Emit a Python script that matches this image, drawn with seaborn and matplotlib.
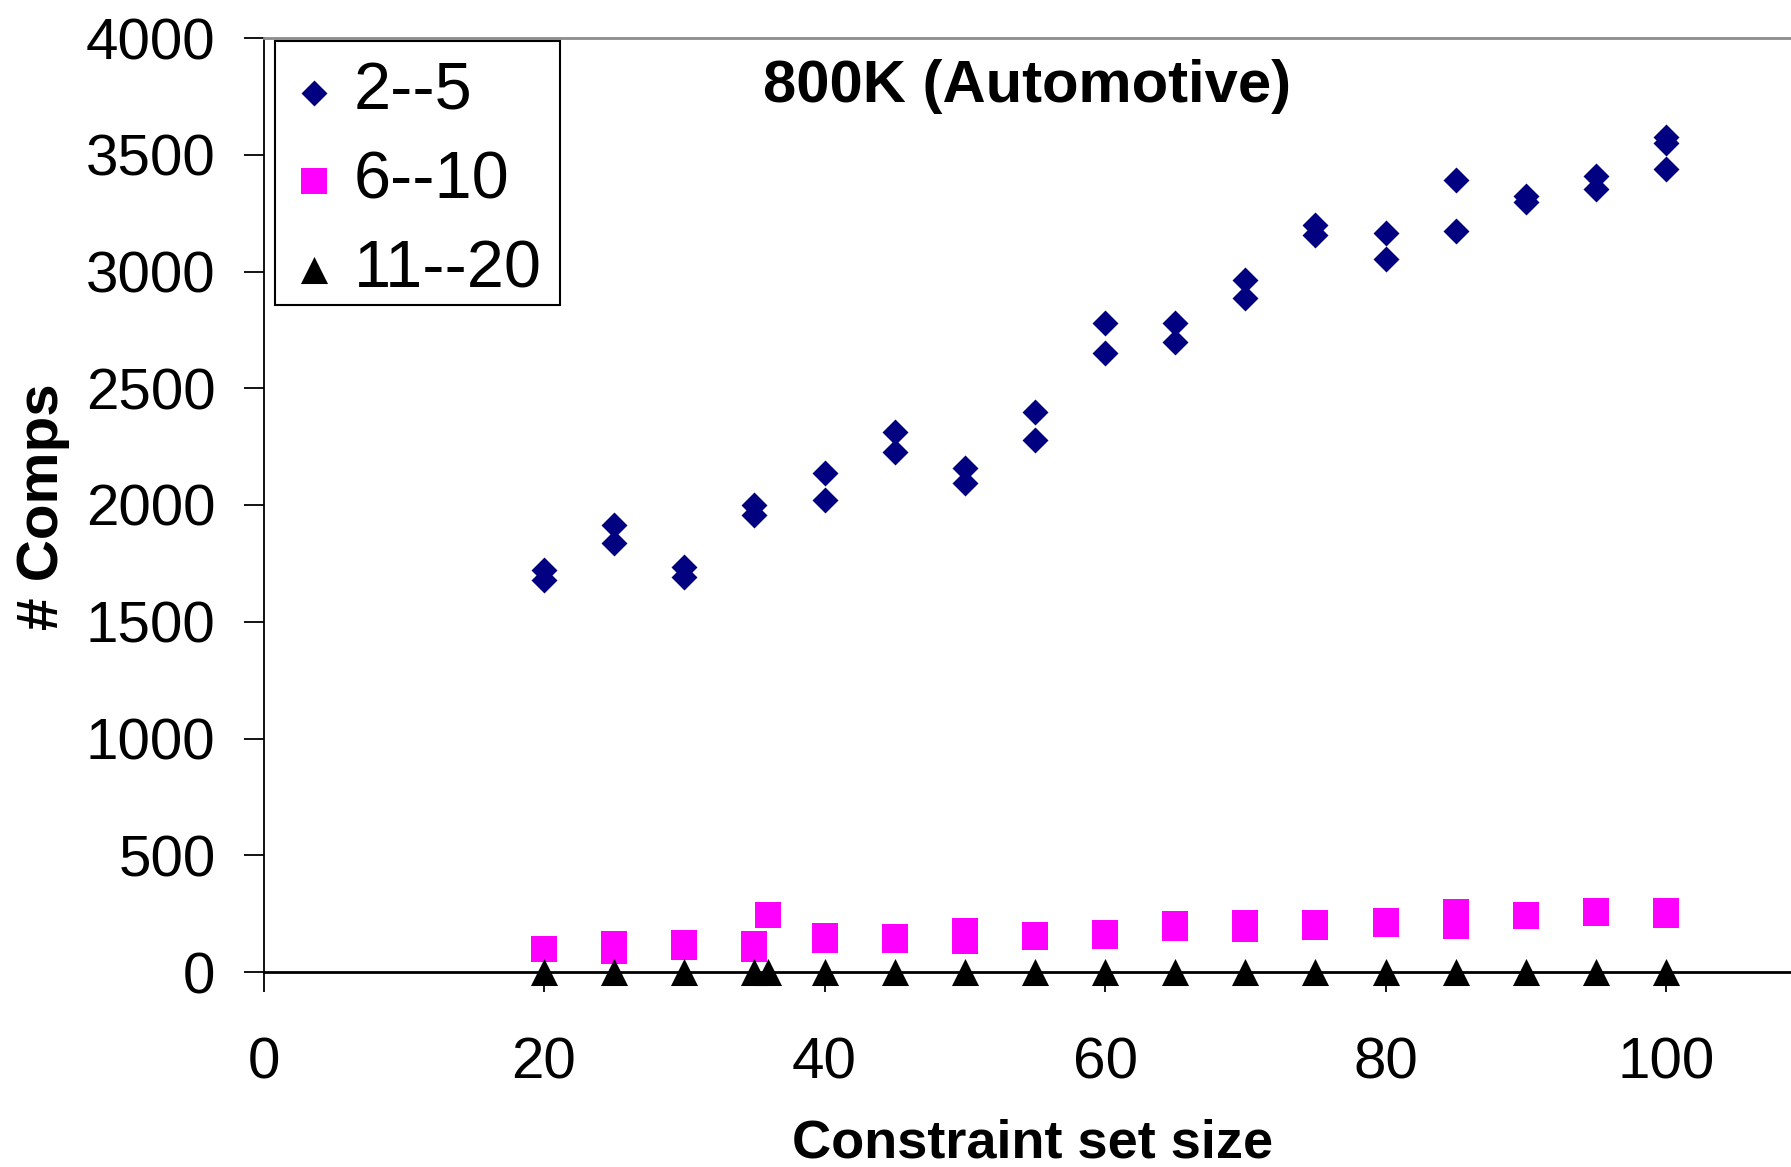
import matplotlib
matplotlib.use("Agg")
import matplotlib.pyplot as plt
import matplotlib.patches as mpatches
import seaborn as sns
import pandas as pd

# ---- data ----
diamond_x = [20, 20, 25, 25, 30, 30, 35, 35, 40, 40, 45, 45, 50, 50, 55, 55, 60, 60,
             65, 65, 70, 70, 75, 75, 80, 80, 85, 85, 90, 90, 95, 95, 100, 100, 100]
diamond_y = [1722, 1679, 1914, 1837, 1735, 1692, 2000, 1957, 2137, 2021, 2313, 2227,
             2158, 2094, 2398, 2278, 2779, 2651, 2779, 2698, 2963, 2886, 3199, 3156,
             3165, 3053, 3392, 3173, 3323, 3298, 3409, 3353, 3576, 3550, 3439]

square_x = [20, 20, 25, 25, 30, 30, 35, 35, 36, 40, 40, 45, 45, 50, 50, 55, 55, 60, 60,
            65, 65, 70, 70, 75, 75, 80, 80, 85, 85, 90, 90, 95, 95, 100, 100]
square_y = [98, 98, 118, 92, 126, 105, 118, 100, 242, 153, 138, 150, 135, 175, 132,
            158, 152, 169, 156, 205, 189, 208, 183, 208, 192, 219, 206, 255, 195,
            246, 238, 260, 252, 260, 245]

triangle_x = [20, 25, 30, 35, 36, 40, 45, 50, 55, 60, 65, 70, 75, 80, 85, 90, 95, 100]
triangle_y = [0, 0, 0, 0, 0, 0, 0, 0, 0, 0, 0, 0, 0, 0, 0, 0, 0, 0]

series_labels = ["2--5", "6--10", "11--20"]
x_ticks = [0, 20, 40, 60, 80, 100]
y_ticks = [0, 500, 1000, 1500, 2000, 2500, 3000, 3500, 4000]
title = "800K (Automotive)"
x_label = "Constraint set size"
y_label = "# Comps"

# ---- style ----
sns.set_style("white")
plt.rcParams["font.family"] = ["Liberation Sans", "DejaVu Sans"]
plt.rcParams["text.color"] = "black"
plt.rcParams["axes.labelcolor"] = "black"
plt.rcParams["xtick.color"] = "black"
plt.rcParams["ytick.color"] = "black"

W, H = 1791, 1167
fig = plt.figure(figsize=(W / 100, H / 100), dpi=100)
ax_left, ax_right, ax_top, ax_bottom = 263.5, 1791, 38, 972
ax_w, ax_h = ax_right - ax_left, ax_bottom - ax_top
ax = fig.add_axes([ax_left / W, 1 - ax_bottom / H, ax_w / W, ax_h / H])


def afx(px):
    return (px - ax_left) / ax_w


def afy(py):
    return (ax_bottom - py) / ax_h


df1 = pd.DataFrame({"x": diamond_x, "y": diamond_y})
df2 = pd.DataFrame({"x": square_x, "y": square_y})
df3 = pd.DataFrame({"x": triangle_x, "y": triangle_y})

sns.scatterplot(data=df1, x="x", y="y", ax=ax, marker="D", s=175, color="#000080",
                linewidth=0, label=series_labels[0], clip_on=False, zorder=3)
sns.scatterplot(data=df2, x="x", y="y", ax=ax, marker="s", s=370, color="#FF00FF",
                linewidth=0, label=series_labels[1], clip_on=False, zorder=3)
sns.scatterplot(data=df3, x="x", y="y", ax=ax, marker="^", s=380, color="black",
                linewidth=0, label=series_labels[2], clip_on=False, zorder=4)

px_per_x = (1666 - 263.5) / 100.0
ax.set_xlim(0, ax_w / px_per_x)
ax.set_ylim(0, 4000)
ax.set_xticks(x_ticks)
ax.set_yticks(y_ticks)
ax.tick_params(axis="both", direction="out", length=14.5, width=1.3, color="black",
               labelsize=42, labelcolor="black")
ax.tick_params(axis="x", pad=32)
ax.tick_params(axis="y", pad=20)
ax.tick_params(bottom=True, left=True)

for side in ["left", "bottom"]:
    ax.spines[side].set_color("black")
ax.spines["left"].set_linewidth(1.3)
ax.spines["bottom"].set_linewidth(2.0)
ax.spines["top"].set_color("#8c8c8c")
ax.spines["top"].set_linewidth(2.0)
ax.spines["right"].set_visible(False)
ax.grid(False)

ax.set_xlabel(x_label, fontsize=39, fontweight="bold", va="center", color="black")
ax.xaxis.set_label_coords(afx(1033), afy(1143))
ax.set_ylabel(y_label, fontsize=42, fontweight="bold", va="center", color="black")
ax.yaxis.set_label_coords(afx(43), afy(507))

ax.text(0.5, afy(86), title, transform=ax.transAxes,
        ha="center", va="center", fontsize=43, fontweight="bold", color="black")

leg = ax.legend(loc="upper left", bbox_to_anchor=(afx(272), afy(40)),
                borderaxespad=0, fontsize=48, frameon=False,
                handlelength=0.6, handletextpad=0.3,
                borderpad=0.33, labelspacing=0.40, scatterpoints=1)
for t in leg.get_texts():
    t.set_color("black")

# legend frame box
frame = mpatches.Rectangle((afx(275), afy(305)), afx(560) - afx(275), afy(41) - afy(305),
                           transform=ax.transAxes, fill=True, facecolor="white",
                           edgecolor="black", linewidth=1.5, zorder=5, clip_on=False)
ax.add_patch(frame)
leg.set_zorder(6)

fig.savefig("out.png", dpi=100)
